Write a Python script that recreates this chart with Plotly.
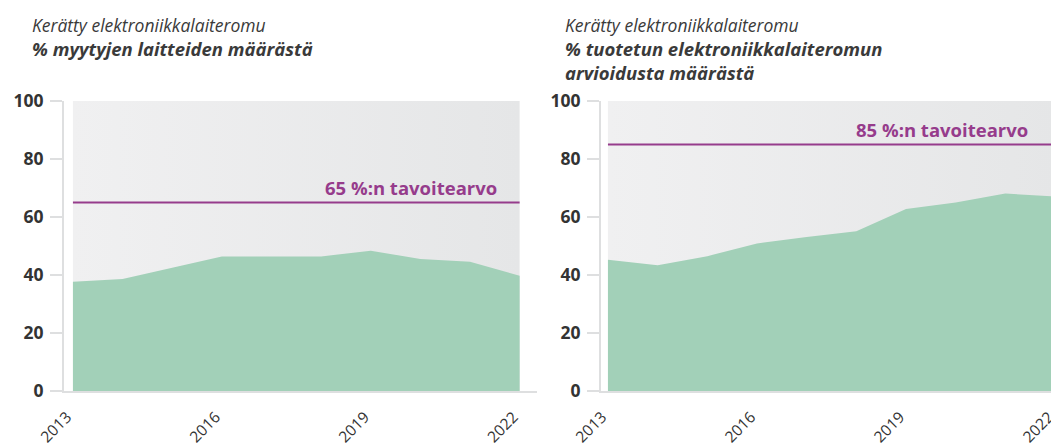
import plotly.graph_objects as go

years = [2013, 2014, 2015, 2016, 2017, 2018, 2019, 2020, 2021, 2022]
sold_share = [37.7, 38.6, 42.5, 46.4, 46.4, 46.4, 48.4, 45.5, 44.6, 39.7]
generated_share = [45.3, 43.4, 46.5, 50.9, 53.1, 55.1, 62.8, 65.0, 68.1, 67.1]
targets = [65, 85]
target_labels = ["65 %:n tavoitearvo", "85 %:n tavoitearvo"]
title_top = "Kerätty elektroniikkalaiteromu"
titles_bottom = ["% myytyjen laitteiden määrästä",
                 "% tuotetun elektroniikkalaiteromun<br>arvioidusta määrästä"]
x_ticks = [2013, 2016, 2019, 2022]
y_ticks = [0, 20, 40, 60, 80, 100]

GREEN = "#a2d0b8"
PURPLE = "#963c8c"
AXIS = "#dedfe0"
FONT = "Open Sans"

# page body has an 8px margin; figure coordinates are page minus 8
W, H = 1051, 440

fig = go.Figure()
series = [sold_share, generated_share]
for i, vals in enumerate(series):
    xa = "x" if i == 0 else "x2"
    ya = "y" if i == 0 else "y2"
    # gradient background over data span
    fig.add_trace(go.Scatter(
        x=[years[0], years[-1], years[-1], years[0], years[0]],
        y=[y_ticks[0], y_ticks[0], y_ticks[-1], y_ticks[-1], y_ticks[0]],
        fill="toself", mode="lines", line=dict(width=0),
        fillgradient=dict(type="horizontal",
                          colorscale=[[0, "#f0f0f1"], [1, "#e5e6e7"]]),
        hoverinfo="skip", showlegend=False, xaxis=xa, yaxis=ya))
    fig.add_trace(go.Scatter(
        x=years, y=vals, mode="lines", fill="tozeroy",
        line=dict(width=0, color=GREEN), fillcolor=GREEN,
        showlegend=False, xaxis=xa, yaxis=ya))
    fig.add_trace(go.Scatter(
        x=[years[0], years[-1]], y=[targets[i], targets[i]], mode="lines",
        line=dict(width=2, color=PURPLE), showlegend=False,
        xaxis=xa, yaxis=ya))
    fig.add_annotation(
        x=years[-1], y=targets[i], xref=xa, yref=ya,
        text="<b>" + target_labels[i] + "</b>", showarrow=False,
        xanchor="right", yanchor="bottom", xshift=-21 if i == 0 else -25,
        yshift=1, font=dict(family=FONT, size=18.5, color=PURPLE))

axis_common_x = dict(
    tickvals=x_ticks, tickangle=-45, showgrid=False, zeroline=False,
    showline=True, linecolor=AXIS, linewidth=2, ticks="",
    automargin=False, ticklabelstandoff=9, ticklabelshift=-6,
    ticklabeloverflow="allow",
    tickfont=dict(family=FONT, size=15.5, color="#333333"))
axis_common_y = dict(
    range=[y_ticks[0], y_ticks[-1]], tickvals=y_ticks, showgrid=False,
    zeroline=False, showline=True, linecolor=AXIS, linewidth=2,
    ticks="outside", ticklen=12, tickwidth=2, tickcolor=AXIS,
    automargin=False, ticklabelstandoff=3,
    tickfont=dict(family=FONT, size=17.5, color="#333333", weight="bold"))

fig.update_layout(
    width=W, height=H,
    margin=dict(l=0, r=0, t=93, b=57),
    paper_bgcolor="white", plot_bgcolor="white",
    xaxis=dict(domain=[56 / W, 529 / W], range=[2012.82, 2022.35],
               anchor="y", **axis_common_x),
    yaxis=dict(anchor="x", **axis_common_y),
    xaxis2=dict(domain=[593 / W, 1.0], range=[2012.86, 2022.08],
                anchor="y2", **axis_common_x),
    yaxis2=dict(anchor="x2", **axis_common_y),
)

title_x = [22 / W, 555 / W]
for i in range(2):
    fig.add_annotation(
        xref="paper", yref="paper", x=title_x[i], y=1.0, yshift=90,
        xanchor="left", yanchor="top", align="left", showarrow=False,
        text=("<span style='font-size:17.5px'><i>" + title_top + "</i></span><br>"
              "<b><i>" + titles_bottom[i] + "</i></b>"),
        font=dict(family=FONT, size=18.5, color="#3a3a3a"))

fig.write_html("out.html")
